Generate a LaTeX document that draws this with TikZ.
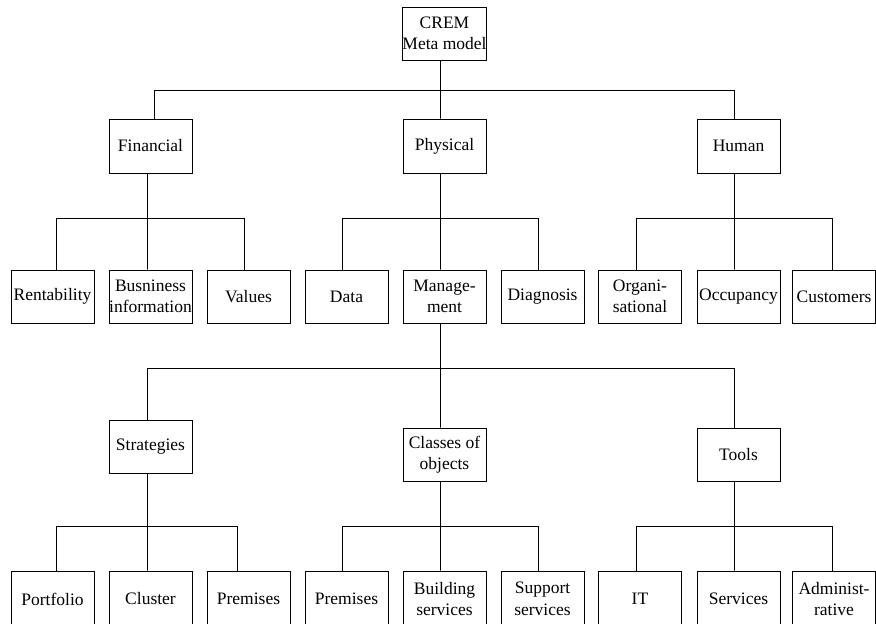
\documentclass[tikz,border=0pt]{standalone}
\usepackage{fontspec}
\setmainfont{Liberation Serif}
\begin{document}
\begin{tikzpicture}[x=1bp,y=-1bp,
  box/.style={draw, line width=0.9bp, minimum width=83bp, minimum height=53bp,
    inner sep=0pt, align=center, font=\fontsize{17.5bp}{21.5bp}\selectfont},
  leaf/.style={box, minimum height=56bp},
  link/.style={draw, line width=0.9bp}]
\useasboundingbox (0,0) rectangle (876,624);

% root
\node[box] (root) at (444.5,33.5) {CREM\\Meta model};

% first level
\node[box, minimum height=54bp] (fin)  at (150.5,146) {Financial};
\node[box, minimum height=54bp] (phys) at (444.5,146) {Physical};
\node[box, minimum height=54bp] (hum)  at (738.5,146) {Human};

% second level
\node[box] (rent) at (52.5,296.5)  {Rentability};
\node[box] (busi) at (150.5,296.5) {Busniness\\information};
\node[box] (vals) at (248.5,296.5) {Values};
\node[box] (data) at (346.5,296.5) {Data};
\node[box] (mgmt) at (444.5,296.5) {Manage-\\ment};
\node[box] (diag) at (542.5,296.5) {Diagnosis};
\node[box] (org)  at (640,296.5)   {Organi-\\sational};
\node[box] (occ)  at (738.5,296.5) {Occupancy};
\node[box] (cust) at (834,296.5)   {Customers};

% management branch
\node[box] (strat) at (150.5,447)   {Strategies};
\node[box] (cls)   at (444.5,454.5) {Classes of\\objects};
\node[box] (tools) at (738.5,454.5) {Tools};

\node[leaf] (port)  at (52.5,599)  {Portfolio};
\node[leaf] (clus)  at (150.5,599) {Cluster};
\node[leaf] (prem)  at (248.5,599) {Premises};
\node[leaf] (premb) at (346.5,599) {Premises};
\node[leaf] (bldg)  at (444.5,599) {Building\\services};
\node[leaf] (supp)  at (542.5,599) {Support\\services};
\node[leaf] (it)    at (640,599)   {IT};
\node[leaf] (serv)  at (738.5,599) {Services};
\node[leaf] (adm)   at (834,599)   {Administ-\\rative};

% junction points of the bus lines
\coordinate (j0)  at (440.5,90.5);
\coordinate (jf)  at (147.5,218.5);
\coordinate (jp)  at (440.5,218.5);
\coordinate (jh)  at (734.5,218.5);
\coordinate (jm)  at (440.5,368.5);
\coordinate (js)  at (147.5,526.5);
\coordinate (jc)  at (440.5,526.5);
\coordinate (jt)  at (734.5,526.5);

% root to first level
\path[link] ([xshift=-4bp]root.south) -- (j0);
\path[link] ([xshift=4bp]fin.north) |- (j0);
\path[link] ([xshift=-4bp]phys.north) -- (j0);
\path[link] ([xshift=-4bp]hum.north) |- (j0);

% financial
\path[link] ([xshift=-3bp]fin.south) -- (jf);
\path[link] ([xshift=4bp]rent.north) |- (jf);
\path[link] ([xshift=-3bp]busi.north) -- (jf);
\path[link] ([xshift=-4bp]vals.north) |- (jf);

% physical
\path[link] ([xshift=-4bp]phys.south) -- (jp);
\path[link] ([xshift=-4bp]data.north) |- (jp);
\path[link] ([xshift=-4bp]mgmt.north) -- (jp);
\path[link] ([xshift=-4bp]diag.north) |- (jp);

% human
\path[link] ([xshift=-4bp]hum.south) -- (jh);
\path[link] ([xshift=-3.5bp]org.north) |- (jh);
\path[link] ([xshift=-4bp]occ.north) -- (jh);
\path[link] ([xshift=-1.5bp]cust.north) |- (jh);

% management
\path[link] ([xshift=-4bp]mgmt.south) -- (jm);
\path[link] ([xshift=-3bp]strat.north) |- (jm);
\path[link] ([xshift=-4bp]cls.north) -- (jm);
\path[link] ([xshift=-4bp]tools.north) |- (jm);

% strategies
\path[link] ([xshift=-3bp]strat.south) -- (js);
\path[link] ([xshift=4bp]port.north) |- (js);
\path[link] ([xshift=-3bp]clus.north) -- (js);
\path[link] ([xshift=-11bp]prem.north) |- (js);

% classes of objects
\path[link] ([xshift=-4bp]cls.south) -- (jc);
\path[link] ([xshift=-4bp]premb.north) |- (jc);
\path[link] ([xshift=-4bp]bldg.north) -- (jc);
\path[link] ([xshift=-4bp]supp.north) |- (jc);

% tools
\path[link] ([xshift=-4bp]tools.south) -- (jt);
\path[link] ([xshift=-3.5bp]it.north) |- (jt);
\path[link] ([xshift=-4bp]serv.north) -- (jt);
\path[link] ([xshift=-1.5bp]adm.north) |- (jt);
\end{tikzpicture}
\end{document}
